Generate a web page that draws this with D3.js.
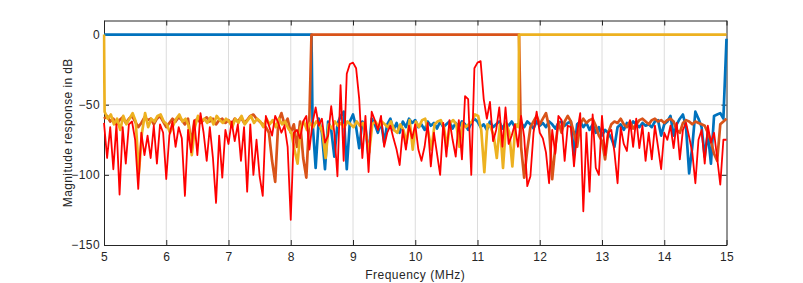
<!DOCTYPE html>
<html>
<head>
<meta charset="utf-8">
<script src="https://cdn.jsdelivr.net/npm/d3@7"></script>
<style>
  body { margin: 0; background: #fff; }
  text { font-family: "Liberation Sans", Arial, sans-serif; fill: #262626; }
</style>
</head>
<body>
<script>
// frequency grid used by all traces (MHz)
const step = 0.05;
const xTicks = [5, 6, 7, 8, 9, 10, 11, 12, 13, 14, 15];
const yTicks = [0, -50, -100, -150];

// passband edges (MHz)
const edges = [5, 8.333, 11.667, 15];

// red: measured spectrum, 5.00 .. 15.00
const redDb = [
  -63,-88,-66,-96,-64,-114,-66,-92,-64,-62,-75,-110,-70,-86,-72,-88,-65,-92,-64,-70,
  -103,-72,-62,-80,-66,-74,-115,-68,-84,-61,-86,-56,-70,-90,-66,-88,-120,-72,-102,-68,
  -78,-62,-76,-64,-90,-66,-112,-64,-100,-75,-101,-115,-58,-65,-72,-58,-63,-70,-65,-80,
  -132,-70,-68,-74,-62,-58,-82,-63,-52,-65,-60,-77,-72,-51,-70,-101,-36,-90,-28,-21,
  -20,-24,-46,-88,-58,-98,-55,-61,-68,-58,-80,-70,-65,-74,-82,-93,-68,-82,-65,-74,
  -64,-82,-90,-80,-63,-94,-70,-85,-100,-63,-87,-61,-75,-87,-61,-89,-44,-46,-100,-24,
  -20,-19,-46,-60,-48,-76,-68,-52,-80,-52,-78,-72,-64,-80,-58,-73,-108,-101,-70,-55,
  -70,-74,-84,-106,-68,-85,-58,-61,-90,-65,-66,-94,-70,-56,-126,-70,-112,-57,-95,-100,
  -58,-86,-70,-68,-84,-106,-66,-78,-83,-61,-80,-60,-81,-65,-90,-70,-89,-65,-80,-96,
  -70,-75,-65,-81,-63,-89,-68,-63,-73,-84,-106,-75,-68,-92,-65,-77,-70,-88,-107,-75,
  -75
];

// blue (low band) stopband, 8.35 .. 15.00
const blueStart = 8.35;
const blueStop = [
  -62,-95,-60,-70,-96,-62,-68,-87,-64,-58,-55,-96,-62,
  -57,-66,-81,-62,-66,-87,-60,-64,-70,-62,-77,-64,-60,-68,-63,-70,-62,-66,-60,-63,
  -61,-66,-64,-68,-62,-65,-63,-67,-62,-66,-64,-62,-67,-63,-66,-62,-64,-68,-63,-60,
  -62,-66,-64,-68,-62,-66,-64,-62,-67,-63,-65,-62,-66,-64,-63,-66,-62,-64,-67,-62,
  -65,-63,-66,-62,-64,-67,-63,-62,-65,-63,-62,-86,-64,-62,-66,-63,-68,-64,-70,-66,
  -72,-68,-70,-74,-80,-66,-64,-68,-63,-66,-62,-64,-66,-63,-65,-64,-66,-62,-61,-72,
  -64,-62,-58,-72,-64,-60,-57,-66,-99,-80,-55,-60,-66,-87,-70,-92,-58,-57,-56,-60,
  -3
];

// orange (mid band) stopbands, 5.00 .. 8.30 and 11.70 .. 15.00
const orangeLowStart = 5.0;
const orangeLow = [
  -60,-58,-62,-60,-64,-61,-59,-63,-60,-58,-62,-66,-63,-59,-61,-60,-64,-60,-58,-62,
  -66,-63,-60,-62,-59,-61,-64,-60,-78,-62,-60,-63,-61,-59,-62,-60,-64,-61,-60,-63,
  -61,-64,-60,-62,-59,-63,-61,-58,-57,-60,-62,-64,-66,-70,-90,-105,-62,-56,-64,-60,
  -70,-64,-80,-62,-88,-102,-58
];
const orangeHighStart = 11.7;
const orangeHigh = [
  -80,-102,-82,-66,-62,-58,-64,-60,-56,-66,-103,-80,-62,-70,-62,-58,-62,-70,-80,-64,
  -60,-63,-61,-60,-65,-72,-76,-89,-70,-64,-62,-63,-60,-64,-66,-62,-67,-64,-61,-60,
  -62,-64,-61,-60,-62,-61,-63,-61,-60,-62,-68,-70,-63,-61,-62,-64,-62,-63,-64,-65,
  -70,-76,-85,-90,-64,-62,-60
];

// yellow (high band) stopband, 5.01 .. 11.66
const yellowStart = 5.01;
const yellowStop = [
  -55,-60,-57,-64,-60,-68,-58,-64,-60,-56,-62,-99,-70,-56,-66,-60,-62,-58,-57,-62,
  -64,-70,-65,-60,-57,-62,-60,-65,-86,-66,-58,-62,-60,-63,-59,-64,-58,-61,-63,-60,
  -62,-66,-60,-63,-58,-64,-61,-58,-63,-60,-62,-66,-60,-64,-61,-66,-60,-64,-62,-67,
  -70,-82,-92,-66,-62,-68,-63,-66,-62,-64,-70,-88,-64,-67,-62,-65,-63,-66,-62,-64,
  -66,-62,-65,-63,-72,-84,-64,-62,-66,-62,-64,-66,-62,-68,-70,-64,-68,-77,-61,-82,
  -62,-66,-61,-60,-70,-82,-64,-62,-61,-66,-80,-63,-61,-64,-80,-63,-66,-64,-62,-57,
  -58,-68,-98,-64,-66,-72,-88,-64,-95,-63,-70,-94,-64,-66
];

const W = 803, H = 283;
const margin = {top: 20.5, right: 76.5, bottom: 38, left: 104};
const w = W - margin.left - margin.right;
const h = H - margin.top - margin.bottom;

const colors = {blue: '#0072BD', orange: '#D95319', yellow: '#EDB120', red: '#FF0000'};

const toPts = (start, vals) => vals.map((v, i) => [start + i * step, v]);

const blue = [[edges[0], 0], [edges[1], 0]].concat(toPts(blueStart, blueStop));
const orange = toPts(orangeLowStart, orangeLow)
  .concat([[edges[1], 0], [edges[2], 0]])
  .concat(toPts(orangeHighStart, orangeHigh));
const yellow = [[edges[0], 0]].concat(toPts(yellowStart, yellowStop))
  .concat([[edges[2], 0], [edges[3], 0]]);
const red = toPts(5, redDb);

const svg = d3.select('body').append('svg')
  .attr('width', W).attr('height', H);

const g = svg.append('g')
  .attr('transform', 'translate(' + margin.left + ',' + margin.top + ')');

const x = d3.scaleLinear().domain([5, 15]).range([0, w]);
const y = d3.scaleLinear().domain([-150, 10]).range([h, 0]);

// grid
g.append('g').selectAll('line').data(xTicks.slice(1, -1)).join('line')
  .attr('x1', d => x(d)).attr('x2', d => x(d))
  .attr('y1', 0).attr('y2', h)
  .attr('stroke', '#dcdcdc').attr('stroke-width', 1);
g.append('g').selectAll('line').data(yTicks.slice(0, -1)).join('line')
  .attr('y1', d => y(d)).attr('y2', d => y(d))
  .attr('x1', 0).attr('x2', w)
  .attr('stroke', '#dcdcdc').attr('stroke-width', 1);

g.append('clipPath').attr('id', 'clip')
  .append('rect').attr('x', -1.5).attr('y', 0).attr('width', w + 3).attr('height', h);

const line = d3.line().x(d => x(d[0])).y(d => y(d[1]));

const traces = [
  {pts: blue, color: colors.blue, lw: 2.7},
  {pts: orange, color: colors.orange, lw: 2.7},
  {pts: yellow, color: colors.yellow, lw: 2.7},
  {pts: red, color: colors.red, lw: 1.8}
];

// axes, ticks pointing inward (box on)
const styleAxis = sel => {
  sel.select('.domain').attr('stroke', '#262626');
  sel.selectAll('.tick line').attr('stroke', '#262626');
  sel.selectAll('text').attr('fill', '#262626')
    .style('font-family', '"Liberation Sans", Arial, sans-serif')
    .style('font-size', '12px').style('letter-spacing', '0.4px');
};

g.append('g').attr('transform', 'translate(0,' + h + ')')
  .call(d3.axisBottom(x).tickValues(xTicks).tickSize(-5).tickPadding(7).tickSizeOuter(0))
  .call(styleAxis);
g.append('g')
  .call(d3.axisTop(x).tickValues(xTicks).tickSize(-5).tickFormat('').tickSizeOuter(0))
  .call(styleAxis);
g.append('g')
  .call(d3.axisLeft(y).tickValues(yTicks).tickSize(-5).tickPadding(4).tickSizeOuter(0))
  .call(styleAxis);
g.append('g').attr('transform', 'translate(' + w + ',0)')
  .call(d3.axisRight(y).tickValues(yTicks).tickSize(-5).tickFormat('').tickSizeOuter(0))
  .call(styleAxis);

// traces drawn over the box so the edge lines at 5 and 15 MHz stay visible
g.append('g').attr('clip-path', 'url(#clip)')
  .selectAll('path').data(traces).join('path')
  .attr('d', d => line(d.pts))
  .attr('fill', 'none')
  .attr('stroke', d => d.color)
  .attr('stroke-width', d => d.lw)
  .attr('stroke-linejoin', 'round');

// axis labels
svg.append('text')
  .attr('x', margin.left + w / 2).attr('y', 279)
  .attr('text-anchor', 'middle')
  .style('font-size', '12px').style('letter-spacing', '0.5px')
  .text('Frequency (MHz)');

svg.append('text')
  .attr('transform', 'translate(72,' + (margin.top + h / 2) + ') rotate(-90)')
  .attr('text-anchor', 'middle')
  .style('font-size', '12px').style('letter-spacing', '0.4px')
  .text('Magnitude response in dB');
</script>
</body>
</html>
